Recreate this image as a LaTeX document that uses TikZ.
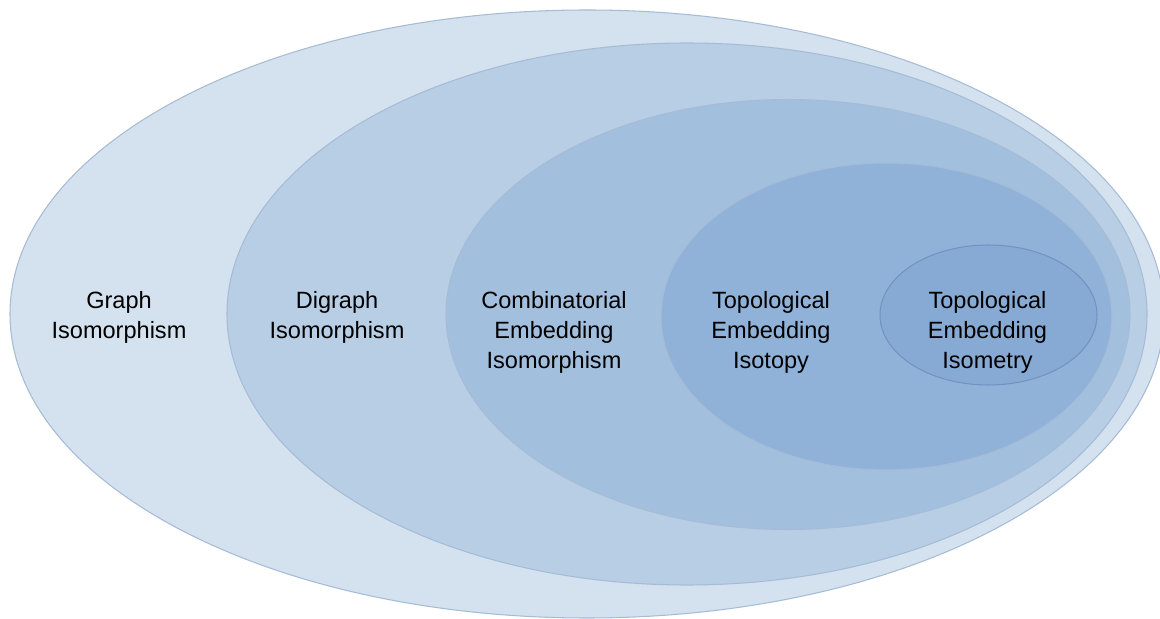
\documentclass[tikz,border=0pt]{standalone}
\usepackage{fontspec}
\setmainfont{Liberation Sans}
\usepackage{tikz}

\definecolor{ringA}{HTML}{D4E1EE}
\definecolor{ringB}{HTML}{B8CEE5}
\definecolor{ringC}{HTML}{A2BFDE}
\definecolor{ringD}{HTML}{90B2D8}
\definecolor{ringE}{HTML}{87AAD4}
\definecolor{rim}{HTML}{A6BCD6}
\definecolor{rimdark}{HTML}{7392C0}

\begin{document}
\begin{tikzpicture}[thin, font=\fontsize{13.4}{17.1}\selectfont,
		ring/.style={draw=rim, line width=0.6pt},
		lbl/.style={anchor=north, align=center, inner sep=0pt}]
		\useasboundingbox (0,0) rectangle (23.2,12.38);
		% nested classes, from the coarsest to the finest
		\begin{scope}
			\clip (0,0) rectangle (23.2,12.38);
			\filldraw[ring, fill=ringA] (11.74,6.10) ellipse (11.54 and 6.08);
			\filldraw[ring, fill=ringB] (13.74,6.10) ellipse (9.20 and 5.42);
			\filldraw[ring, fill=ringC] (15.76,6.09) ellipse (6.84 and 4.30);
			\filldraw[ring, fill=ringD] (17.73,6.05) ellipse (4.51 and 3.07);
			\filldraw[ring, draw=rimdark, fill=ringE] (19.77,6.08) ellipse (2.17 and 1.40);
		\end{scope}
		% labels, tops aligned
		\node[lbl] (graph) at (2.38,6.56) {Graph\\Isomorphism};
		\node[lbl] (digraph) at (6.74,6.56) {Digraph\\Isomorphism};
		\node[lbl] (comb) at (11.08,6.56) {Combinatorial\\Embedding\\Isomorphism};
		\node[lbl] (isotopy) at (15.42,6.56) {Topological\\Embedding\\Isotopy};
		\node[lbl] (isometry) at (19.75,6.56) {Topological\\Embedding\\Isometry};
	\end{tikzpicture}
\end{document}
